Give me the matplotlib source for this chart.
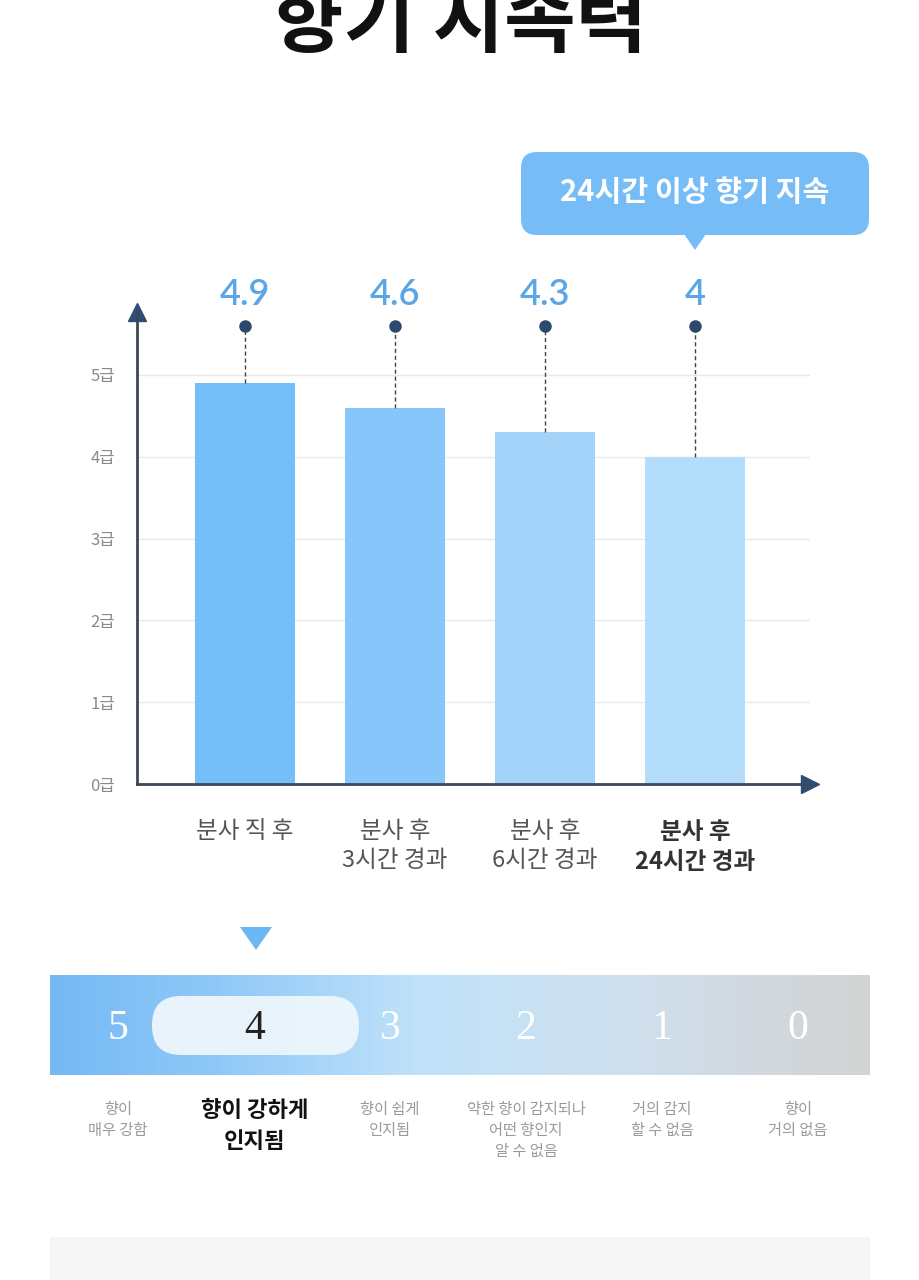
import matplotlib.pyplot as plt
import numpy as np
from matplotlib.patches import FancyBboxPatch, Polygon, Rectangle
from matplotlib.colors import LinearSegmentedColormap

plt.rcParams['font.family'] = ['Noto Sans CJK KR', 'DejaVu Sans']

title = '향기 지속력'
categories = ['분사 직 후', '분사 후\n3시간 경과', '분사 후\n6시간 경과', '분사 후\n24시간 경과']
values = [4.9, 4.6, 4.3, 4.0]
value_labels = ['4.9', '4.6', '4.3', '4']
bar_colors = ['#74bef9', '#86c6fa', '#a4d3fa', '#b4dcfb']
yticks = [0, 1, 2, 3, 4, 5]
ytick_labels = ['0급', '1급', '2급', '3급', '4급', '5급']
callout = '24시간 이상 향기 지속'

scale_levels = ['5', '4', '3', '2', '1', '0']
scale_desc = ['향이\n매우 강함', '향이 강하게\n인지됨', '향이 쉽게\n인지됨',
              '약한 향이 감지되나\n어떤 향인지\n알 수 없음', '거의 감지\n할 수 없음', '향이\n거의 없음']
selected = 1

W, H = 920, 1280
fig = plt.figure(figsize=(W / 100, H / 100), dpi=100)
fig.patch.set_facecolor('white')

# overlay axis in pixel coordinates
ov = fig.add_axes([0, 0, 1, 1])
ov.set_xlim(0, W)
ov.set_ylim(H, 0)
ov.axis('off')
ov.patch.set_alpha(0)

ov.text(460, 23, title, ha='center', va='center', fontsize=56, fontweight='bold', color='#111111')

# callout bubble
ov.add_patch(FancyBboxPatch((521, 152), 348, 83, boxstyle='round,pad=0,rounding_size=16',
                            fc='#76bdf7', ec='none'))
ov.add_patch(Polygon([[684, 234], [706, 234], [695, 250]], closed=True, fc='#76bdf7', ec='none'))
ov.text(695, 192, callout, ha='center', va='center', fontsize=21, fontweight='bold', color='white')

# bar chart
x0, x1, ytop, ybot = 137, 810, 312, 784
ax = fig.add_axes([x0 / W, 1 - ybot / H, (x1 - x0) / W, (ybot - ytop) / H])
ax.patch.set_alpha(0)
x = np.arange(len(values))
ax.set_xlim(-0.72, -0.72 + (x1 - x0) / 150)
ax.set_ylim(0, (ybot - ytop) / 81.8)
ax.bar(x, values, width=0.667, color=bar_colors, zorder=2)
ax.set_yticks(yticks)
ax.set_yticklabels(ytick_labels, color='#8a8a8a', fontsize=12)
ax.tick_params(axis='y', length=0, pad=16)
ax.set_xticks(x)
ax.set_xticklabels(categories, fontsize=17, color='#555555', linespacing=1.3)
ax.tick_params(axis='x', length=0, pad=26)
lbls = ax.get_xticklabels()
lbls[-1].set_fontweight('bold')
lbls[-1].set_color('#333333')
ax.grid(axis='y', color='#e8e8e8', lw=1, zorder=0)
for s in ['top', 'right']:
    ax.spines[s].set_visible(False)
for s in ['left', 'bottom']:
    ax.spines[s].set_color('#3c4858')
    ax.spines[s].set_linewidth(2)
ax.plot(1, 0, '>', color='#2f4d75', ms=13, transform=ax.get_yaxis_transform(), clip_on=False)
ax.plot(0, 1, '^', color='#2f4d75', ms=13, transform=ax.transAxes, clip_on=False)

dot_y = 5.6
for xi, v, lab in zip(x, values, value_labels):
    ax.plot([xi, xi], [v, dot_y], ls=(0, (3, 2)), color='#444444', lw=1, zorder=3)
    ax.plot(xi, dot_y, 'o', color='#2d4a6e', ms=8, clip_on=False, zorder=4)
    ax.text(xi, 5.98, lab, ha='center', va='center', fontsize=26, color='#5aa6e6',
            family='Lato', fontweight='semibold', clip_on=False)

# level marker triangle
ov.add_patch(Polygon([[240, 927], [272, 927], [256, 950]], closed=True, fc='#6cb8f5', ec='none'))

# gradient scale bar
cmap = LinearSegmentedColormap.from_list('scale', [
    (0.0, '#74b9f5'), (0.2, '#8fc8f7'), (0.45, '#c0e2fa'), (0.7, '#cfe0ee'), (1.0, '#d3d3d3')])
grad = np.linspace(0, 1, 256).reshape(1, -1)
ov.imshow(grad, cmap=cmap, extent=(50, 870, 1075, 975), aspect='auto', zorder=1)
ov.set_xlim(0, W)
ov.set_ylim(H, 0)

pos = [118, 255, 390, 526, 662, 798]
ov.add_patch(FancyBboxPatch((152, 996), 207, 59, boxstyle='round,pad=0,rounding_size=29',
                            fc='#eef6fc', ec='none', alpha=0.95, zorder=2))
for i, (p, lv) in enumerate(zip(pos, scale_levels)):
    ov.text(p, 1029, lv, ha='center', va='center', fontsize=30, family='Liberation Serif',
            color='#222222' if i == selected else 'white', zorder=3)
    if i == selected:
        ov.text(p, 1099, scale_desc[i], ha='center', va='top', fontsize=16, fontweight='bold',
                color='#111111', linespacing=1.45)
    else:
        ov.text(p, 1101, scale_desc[i], ha='center', va='top', fontsize=11,
                color='#9a9a9a', linespacing=1.3)

# bottom grey box
ov.add_patch(Rectangle((50, 1237), 820, 50, fc='#f6f6f6', ec='none'))

fig.savefig('out.png', dpi=100, facecolor='white')
